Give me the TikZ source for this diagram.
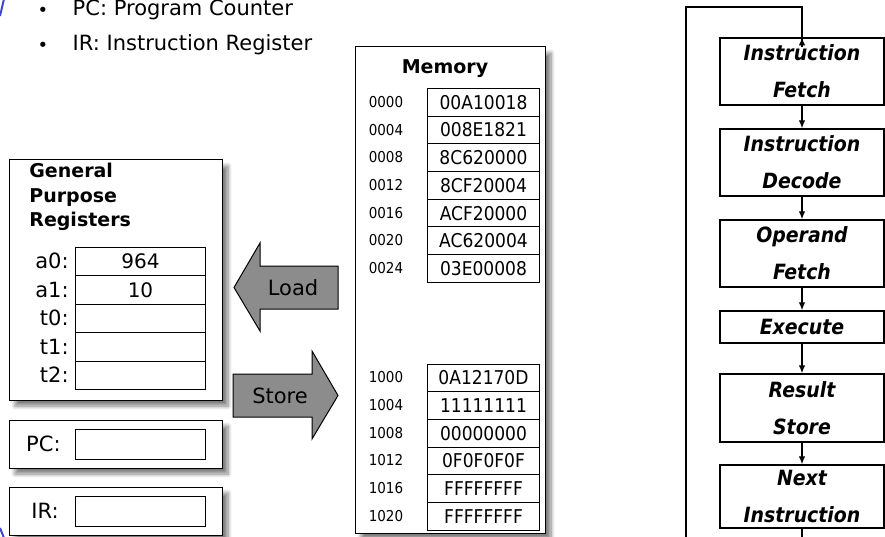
\documentclass[tikz,border=0pt]{standalone}
\usepackage{fontspec}
\setmainfont{DejaVu Sans}
\newfontfamily\condfont{DejaVu Sans Condensed}
\usepackage{tikz}
\usetikzlibrary{shadows.blur, arrows.meta}
\tikzset{every picture/.style={line width=0.75pt}}

\begin{document}
\begin{tikzpicture}[x=1pt,y=1pt,yscale=-1,xscale=1,
    font=\fontsize{21}{25}\selectfont,
    panel/.style={draw, line width=1pt, fill=white, blur shadow={shadow xshift=6pt, shadow yshift=-6pt, shadow blur steps=8, shadow blur radius=4pt, shadow opacity=50}},
    cell/.style={draw, line width=1pt, inner sep=0pt, anchor=north west},
    regcell/.style={cell, minimum width=130pt, minimum height=28.4pt, font=\fontsize{20}{24}\selectfont},
    memcell/.style={cell, minimum width=112pt, minimum height=27.7pt, font=\condfont\fontsize{19}{23}\selectfont},
    addr/.style={font=\condfont\fontsize{15}{18}\selectfont, inner sep=0pt},
    stage/.style={draw, line width=1.2pt, minimum width=164pt, align=center, inner sep=0pt, font=\condfont\bfseries\itshape\fontsize{21}{37}\selectfont},
    flow/.style={draw, line width=1.5pt, -{Latex[length=8pt,width=6.5pt]}},
    loopline/.style={draw, line width=2.5pt}]
	\useasboundingbox (0,0) rectangle (885,537);

	%Slide border marks
	\draw [color={rgb, 255:red, 63; green, 72; blue, 204 }, line width=2pt] (4,-1) -- (0,16) ;
	\draw [color={rgb, 255:red, 63; green, 72; blue, 204 }, line width=2pt] (0,528) -- (4,538) ;

	% Text Node
	\node (bulpc) at (43,12) {\fontsize{18}{20}\selectfont •};
	% Text Node
	\node [anchor=west] (txtpc) at (69,10) {PC: Program Counter};
	% Text Node
	\node (bulir) at (43,47) {\fontsize{18}{20}\selectfont •};
	% Text Node
	\node [anchor=west] (txtir) at (69,45) {IR: Instruction Register};

	%Shape: Rectangle (general purpose registers)
	\path [panel] (9,160) rectangle (222,400) ;
	% Text Node
	\node [anchor=north west, align=left, inner sep=0pt, font=\bfseries\fontsize{19}{24.5}\selectfont] (gprtitle) at (29,163) {General\\Purpose\\Registers};

	%Register cells
	\node [regcell] (a0val) at (75,247) {964};
	\node [regcell] (a1val) at (75,275.4) {10};
	\node [regcell] (t0val) at (75,303.8) {};
	\node [regcell] (t1val) at (75,332.2) {};
	\node [regcell] (t2val) at (75,360.6) {};
	% Text Node
	\node [anchor=east, inner sep=1pt] (a0lbl) at (70,261.2) {a0:};
	\node [anchor=east, inner sep=1pt] (a1lbl) at (70,289.6) {a1:};
	\node [anchor=east, inner sep=1pt] (t0lbl) at (70,318) {t0:};
	\node [anchor=east, inner sep=1pt] (t1lbl) at (70,346.4) {t1:};
	\node [anchor=east, inner sep=1pt] (t2lbl) at (70,374.8) {t2:};

	%Shape: Rectangle (PC)
	\path [panel] (9,420) rectangle (222,468) ;
	\node [cell, minimum width=130pt, minimum height=30pt] (pcval) at (75,428.5) {};
	\node [anchor=east, inner sep=1pt] (pclbl) at (62,443.5) {PC:};

	%Shape: Rectangle (IR)
	\path [panel] (9,487) rectangle (222,535) ;
	\node [cell, minimum width=130pt, minimum height=30pt] (irval) at (75,496) {};
	\node [anchor=east, inner sep=1pt] (irlbl) at (60,511) {IR:};

	%Shape: Load arrow
	\draw [fill={rgb, 255:red, 140; green, 140; blue, 140 }, line width=1pt] (338,266) -- (260,266) -- (260,243) -- (234,287.5) -- (260,331) -- (260,309) -- (338,309) -- cycle ;
	% Text Node
	\node (loadtxt) at (293,287.5) {Load};

	%Shape: Store arrow
	\draw [fill={rgb, 255:red, 140; green, 140; blue, 140 }, line width=1pt] (233,374) -- (312,374) -- (312,351) -- (338,395.5) -- (312,439) -- (312,417) -- (233,417) -- cycle ;
	% Text Node
	\node (storetxt) at (280,395.5) {Store};

	%Shape: Rectangle (memory)
	\path [panel] (355,47) rectangle (545,533) ;
	% Text Node
	\node [font=\bfseries\fontsize{19}{23}\selectfont] (memtitle) at (445,69) {Memory};

	%Memory cells, program
	\node [memcell] (m0000) at (427,88) {00A10018};
	\node [memcell] (m0004) at (427,115.7) {008E1821};
	\node [memcell] (m0008) at (427,143.4) {8C620000};
	\node [memcell] (m0012) at (427,171.1) {8CF20004};
	\node [memcell] (m0016) at (427,198.8) {ACF20000};
	\node [memcell] (m0020) at (427,226.5) {AC620004};
	\node [memcell] (m0024) at (427,254.2) {03E00008};
	% Text Node
	\node [addr] (a0000) at (386,101.9) {0000};
	\node [addr] (a0004) at (386,129.6) {0004};
	\node [addr] (a0008) at (386,157.3) {0008};
	\node [addr] (a0012) at (386,185) {0012};
	\node [addr] (a0016) at (386,212.7) {0016};
	\node [addr] (a0020) at (386,240.4) {0020};
	\node [addr] (a0024) at (386,268.1) {0024};

	%Memory cells, data
	\node [memcell] (m1000) at (427,363.5) {0A12170D};
	\node [memcell] (m1004) at (427,391.2) {11111111};
	\node [memcell] (m1008) at (427,418.9) {00000000};
	\node [memcell] (m1012) at (427,446.6) {0F0F0F0F};
	\node [memcell] (m1016) at (427,474.3) {FFFFFFFF};
	\node [memcell] (m1020) at (427,502) {FFFFFFFF};
	% Text Node
	\node [addr] (a1000) at (386,377.4) {1000};
	\node [addr] (a1004) at (386,405.1) {1004};
	\node [addr] (a1008) at (386,432.8) {1008};
	\node [addr] (a1012) at (386,460.5) {1012};
	\node [addr] (a1016) at (386,488.2) {1016};
	\node [addr] (a1020) at (386,515.9) {1020};

	%Instruction cycle
	\node [stage, minimum height=67pt] (fetch) at (802,71.5) {Instruction\\Fetch};
	\node [stage, minimum height=67pt] (decode) at (802,162.5) {Instruction\\Decode};
	\node [stage, minimum height=67pt] (operand) at (802,253.5) {Operand\\Fetch};
	\node [stage, minimum height=32pt] (execute) at (802,327) {Execute};
	\node [stage, minimum height=68pt] (result) at (802,408) {Result\\Store};
	\node [stage, minimum height=63pt] (next) at (802,496.5) {Next\\Instruction};

	%Straight Lines
	\draw [flow] (fetch.south) -- (decode.north) ;
	\draw [flow] (decode.south) -- (operand.north) ;
	\draw [flow] (operand.south) -- (execute.north) ;
	\draw [flow] (execute.south) -- (result.north) ;
	\draw [flow] (result.south) -- (next.north) ;

	%Loop back
	\coordinate (loopbr) at (next.south |- 0,560) ;
	\coordinate (loopbl) at (686,560) ;
	\coordinate (looptl) at (686,7) ;
	\draw [line width=1.5pt] (next.south) -- (loopbr) ;
	\draw [loopline] (loopbr) -- (loopbl) -- (looptl) -| ([yshift=8pt]fetch.north) ;
	\draw [flow] ([yshift=10pt]fetch.north) -- (fetch.north) ;

\end{tikzpicture}
\end{document}
